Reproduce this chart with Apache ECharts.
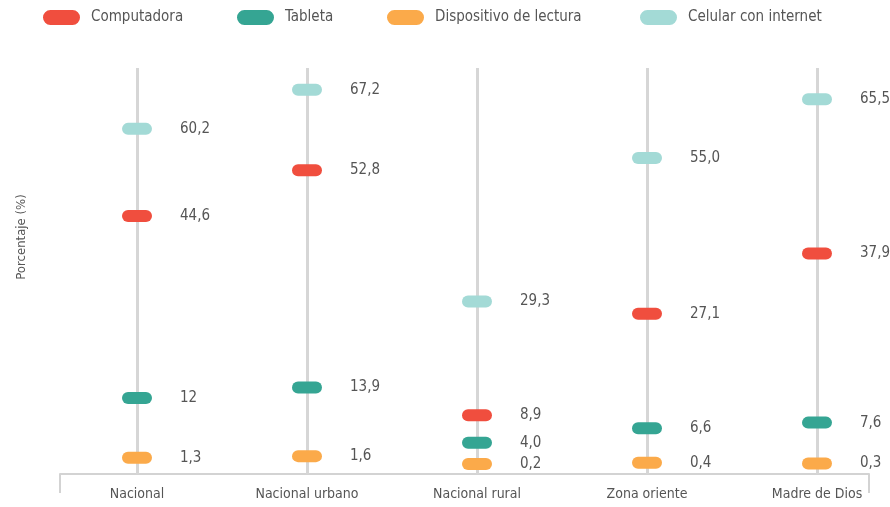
<!DOCTYPE html>
<html>
<head>
<meta charset="utf-8">
<script src="https://cdn.jsdelivr.net/npm/echarts@6/dist/echarts.min.js"></script>
<style>
  html, body { margin: 0; padding: 0; background: #fff; }
  #chart { width: 890px; height: 507px; }
</style>
</head>
<body>
<div id="chart"></div>
<script>
// datos (texto tal como aparece)
const categorias = ['Nacional', 'Nacional urbano', 'Nacional rural', 'Zona oriente', 'Madre de Dios'];
const computadora = ['44,6', '52,8', '8,9', '27,1', '37,9'];
const tableta = ['12', '13,9', '4,0', '6,6', '7,6'];
const lectura = ['1,3', '1,6', '0,2', '0,4', '0,3'];
const celular = ['60,2', '67,2', '29,3', '55,0', '65,5'];

const fuente = "'DejaVu Sans Condensed', 'Liberation Sans Narrow', sans-serif";
const gris = '#555555';
// cápsula redondeada
const capsula = 'path://M6,0 H24 A6,6 0 0 1 24,12 H6 A6,6 0 0 1 6,0 Z';

const nombres = ['Computadora', 'Tableta', 'Dispositivo de lectura', 'Celular con internet'];
const colores = ['#f04e3e', '#35a593', '#fbaa4a', '#a3dad6'];

function serie (nombre, textos, color) {
    return {
        name: nombre,
        type: 'scatter',
        symbol: capsula,
        symbolSize: [30, 12],
        itemStyle: { color: color, opacity: 1 },
        data: textos.map(t => parseFloat(t.replace(',', '.'))),
        label: {
            show: true,
            position: 'right',
            distance: 28,
            color: gris,
            opacity: 1,
            fontFamily: fuente,
            fontSize: 15,
            formatter: p => textos[p.dataIndex]
        },
        emphasis: { disabled: true },
        z: 3
    };
}

let series = [
    serie(nombres[0], computadora, colores[0]),
    serie(nombres[1], tableta, colores[1]),
    serie(nombres[2], lectura, colores[2]),
    serie(nombres[3], celular, colores[3])
];

// líneas verticales por categoría
series[0].markLine = {
    silent: true,
    symbol: 'none',
    label: { show: false },
    lineStyle: { color: '#d6d6d6', width: 3, type: 'solid', opacity: 1 },
    data: categorias.map(c => ({ xAxis: c })),
    z: 1
};

// una leyenda por elemento para fijar su posición
const leyendaX = [43, 237, 387, 640];
let leyendas = nombres.map((n, i) => ({
    left: leyendaX[i],
    top: 10,
    padding: 0,
    itemWidth: 37,
    itemHeight: 15,
    itemGap: 0,
    icon: capsula,
    textStyle: { color: gris, fontFamily: fuente, fontSize: 15, padding: [0, 0, 0, 6] },
    data: [n]
}));

let myChart = echarts.init(document.getElementById('chart'));
myChart.setOption({
    animation: false,
    legend: leyendas,
    grid: [
        { left: 137, right: 73, top: 68, bottom: 33 },
        { left: 60, right: 21, top: 68, bottom: 33 }
    ],
    xAxis: [
        {
            type: 'category',
            gridIndex: 0,
            data: categorias,
            boundaryGap: false,
            axisLine: { show: false },
            axisTick: { show: false },
            axisLabel: { color: gris, fontFamily: fuente, fontSize: 14, margin: 13 }
        },
        {
            // línea base con marcas en los extremos
            type: 'value',
            gridIndex: 1,
            min: 0,
            max: 1,
            interval: 1,
            axisLine: { lineStyle: { color: '#d3d3d3', width: 2 } },
            axisTick: { length: 19, lineStyle: { color: '#d3d3d3', width: 2 } },
            axisLabel: { show: false },
            splitLine: { show: false }
        }
    ],
    yAxis: [
        { type: 'value', gridIndex: 0, min: -1.6, max: 71.1, show: false },
        { type: 'value', gridIndex: 1, min: 0, max: 1, show: false }
    ],
    graphic: [{
        type: 'text',
        x: 22,
        y: 237,
        rotation: Math.PI / 2,
        style: {
            text: 'Porcentaje (%)',
            fill: gris,
            font: '13px ' + fuente,
            textAlign: 'center',
            textVerticalAlign: 'middle'
        }
    }],
    series: series
});
</script>
</body>
</html>
